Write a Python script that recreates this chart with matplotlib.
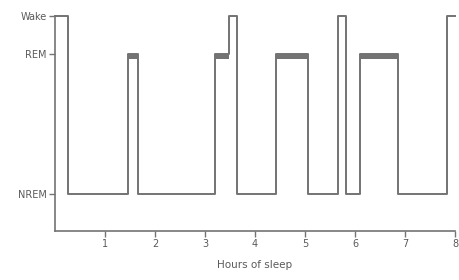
import numpy as np
import matplotlib
matplotlib.use("Agg")
import matplotlib.pyplot as plt

# Sleep stages on the y axis
stage_names = ["NREM", "REM", "Wake"]
stage_levels = [0.0, 1.0, 1.27]

# Hypnogram: time (hours) at which each stage starts
change_times = [0.0, 0.26, 1.46, 1.66, 3.20, 3.48, 3.64, 4.42, 5.06, 5.66, 5.82, 6.10, 6.86, 7.84]
change_stages = ["Wake", "NREM", "REM", "NREM", "REM", "Wake", "NREM", "REM",
                 "NREM", "Wake", "NREM", "REM", "NREM", "Wake"]
end_time = 8.0
x_ticks = [1, 2, 3, 4, 5, 6, 7, 8]

level = dict(zip(stage_names, stage_levels))
t = np.array(change_times + [end_time])
y = np.array([level[s] for s in change_stages] + [level[change_stages[-1]]])

line_col = "#737373"
text_col = "#5a5a5a"

fig = plt.figure(figsize=(4.59, 2.80), dpi=100)
ax = fig.add_axes([0.1198, 0.175, 0.8715, 0.768])

ax.step(t, y, where="post", color=line_col, lw=1.4, clip_on=False)

# REM periods drawn with a heavier bar on top
for i, s in enumerate(change_stages):
    if s == "REM":
        ax.fill_between([t[i], t[i + 1]], level["REM"] - 0.035, level["REM"],
                        color=line_col, lw=0, clip_on=False)

ax.set_xlim(0, end_time)
ax.set_ylim(-0.264, 1.27)
ax.set_xticks(x_ticks)
ax.set_yticks(stage_levels)
ax.set_yticklabels(stage_names)
ax.set_xlabel("Hours of sleep", fontsize=7.5, color=text_col, labelpad=8)

for side in ["top", "right"]:
    ax.spines[side].set_visible(False)
for side in ["left", "bottom"]:
    ax.spines[side].set_color(line_col)
    ax.spines[side].set_linewidth(1.2)

ax.tick_params(axis="both", colors=line_col, labelcolor=text_col, labelsize=7,
               length=4, width=1.0, pad=2)

fig.savefig("out.png", dpi=100)
